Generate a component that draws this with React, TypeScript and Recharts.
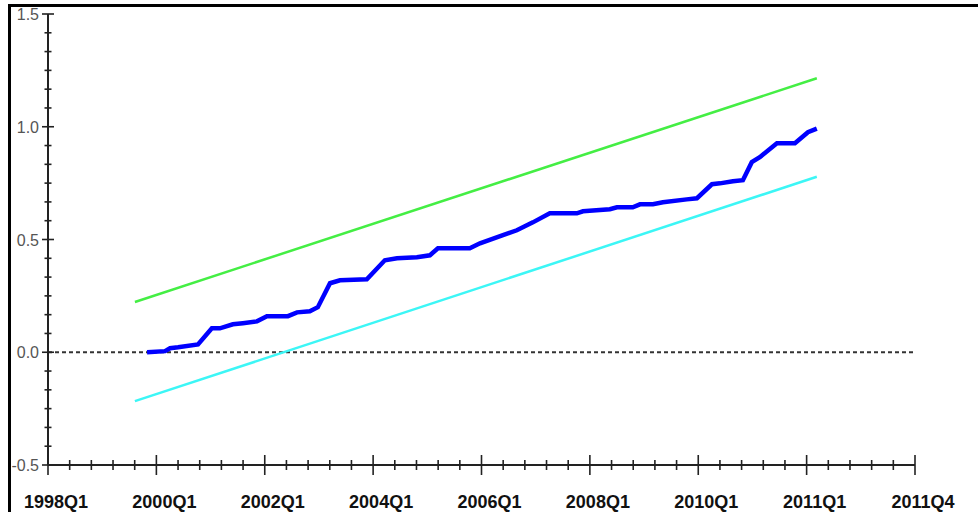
import React from "react";
import { LineChart, Line, XAxis, YAxis, ReferenceLine } from "recharts";

// x is measured in axis steps (40 steps between 1998Q1 and 2011Q4 on this axis)
const blueX = [4.57, 5.4, 5.63, 6.0, 6.92, 7.56, 7.93, 8.53, 8.99, 9.64, 10.1, 11.07, 11.49, 12.08, 12.45, 13.01, 13.47, 14.71, 15.54, 16.1, 17.02, 17.62, 17.99, 19.46, 19.93, 20.99, 21.63, 22.37, 23.15, 24.4, 24.68, 25.92, 26.25, 26.98, 27.31, 27.91, 28.37, 29.47, 29.94, 30.63, 31.0, 31.6, 32.06, 32.47, 32.84, 33.63, 34.46, 35.06, 35.47];
const blueV = [0.0, 0.005, 0.018, 0.022, 0.035, 0.106, 0.106, 0.124, 0.129, 0.137, 0.16, 0.16, 0.177, 0.182, 0.2, 0.306, 0.319, 0.324, 0.408, 0.417, 0.421, 0.43, 0.461, 0.461, 0.483, 0.519, 0.541, 0.576, 0.616, 0.616, 0.625, 0.634, 0.643, 0.643, 0.656, 0.656, 0.665, 0.678, 0.683, 0.745, 0.749, 0.758, 0.763, 0.843, 0.865, 0.927, 0.927, 0.976, 0.992];
const upperX = [4.01, 35.47];
const upperV = [0.223, 1.215];
const lowerX = [4.01, 35.47];
const lowerV = [-0.217, 0.778];

const xTickLabels: Record<number, string> = {
  0: "1998Q1",
  5: "2000Q1",
  10: "2002Q1",
  15: "2004Q1",
  20: "2006Q1",
  25: "2008Q1",
  30: "2010Q1",
  35: "2011Q1",
  40: "2011Q4",
};
const xTicks = Array.from({ length: 41 }, (_, i) => i);
const yTicks = Array.from({ length: 25 }, (_, k) => -0.5 + k / 12);
const yLabels = ["-0.5", "0.0", "0.5", "1.0", "1.5"];

const blue = blueX.map((x, i) => ({ x, v: blueV[i] }));
const upper = upperX.map((x, i) => ({ x, v: upperV[i] }));
const lower = lowerX.map((x, i) => ({ x, v: lowerV[i] }));

const XTick = (props: any) => {
  const { x, y, payload } = props;
  const idx = Math.round(payload.value);
  const major = idx % 5 === 0;
  const len = major ? 10 : 5;
  return (
    <g>
      <line x1={x} x2={x} y1={y - len} y2={y + len} stroke="#222" strokeWidth={1.6} />
      {major && (
        <text
          x={x + 8}
          y={y + 43}
          textAnchor="middle"
          fontFamily="'Liberation Sans', Arial, sans-serif"
          fontWeight="bold"
          fontSize={18}
          fill="#111"
        >
          {xTickLabels[idx]}
        </text>
      )}
    </g>
  );
};

const YTick = (props: any) => {
  const { x, y, index } = props;
  const major = index % 6 === 0;
  const len = major ? 6 : 3.5;
  return (
    <g>
      <line x1={x - len} x2={x + len} y1={y} y2={y} stroke="#222" strokeWidth={1.6} />
      {major && (
        <text
          x={x - 9}
          y={y + 6}
          textAnchor="end"
          fontFamily="'Liberation Sans', Arial, sans-serif"
          fontSize={16}
          fill="#555"
        >
          {yLabels[index / 6]}
        </text>
      )}
    </g>
  );
};

export default function App() {
  return (
    <div style={{ position: "absolute", left: 0, top: 0, width: 978, height: 512, background: "#fff", overflow: "hidden" }}>
      <div
        style={{
          position: "absolute",
          left: 8,
          top: 4,
          width: 970,
          height: 508,
          borderLeft: "3px solid #000",
          borderTop: "3px solid #000",
          boxSizing: "border-box",
          zIndex: 2,
          pointerEvents: "none",
        }}
      />
      <div style={{ position: "absolute", left: 0, top: 0 }}>
        <LineChart width={978} height={512} margin={{ top: 14, right: 63, bottom: 0, left: 0 }}>
          <XAxis
            dataKey="x"
            type="number"
            domain={[0, 40]}
            ticks={xTicks}
            interval={0}
            tick={<XTick />}
            tickLine={false}
            tickSize={0}
            tickMargin={0}
            height={47}
            axisLine={{ stroke: "#222", strokeWidth: 2 }}
            allowDataOverflow
          />
          <YAxis
            type="number"
            domain={[-0.5, 1.5]}
            ticks={yTicks}
            interval={0}
            tick={<YTick />}
            tickLine={false}
            tickSize={0}
            tickMargin={0}
            width={48}
            axisLine={{ stroke: "#222", strokeWidth: 2 }}
            allowDataOverflow
          />
          <ReferenceLine y={0} stroke="#333" strokeWidth={2} strokeDasharray="4 3" />
          <Line data={upper} dataKey="v" type="linear" stroke="#44ee44" strokeWidth={2.5} dot={false} isAnimationActive={false} />
          <Line data={lower} dataKey="v" type="linear" stroke="#3cf6f6" strokeWidth={2.5} dot={false} isAnimationActive={false} />
          <Line data={blue} dataKey="v" type="linear" stroke="#0000ff" strokeWidth={4.5} dot={false} isAnimationActive={false} />
        </LineChart>
      </div>
    </div>
  );
}
